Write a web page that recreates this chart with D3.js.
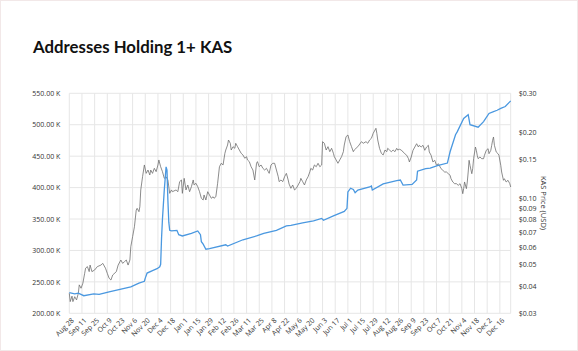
<!DOCTYPE html>
<html><head><meta charset="utf-8">
<script src="https://cdn.jsdelivr.net/npm/d3@7"></script>
<style>
html,body{margin:0;padding:0;background:#fff;}
svg{display:block;}
</style></head>
<body>
<script>
// ---- data ----
const addrDates = ["2023-08-28","2023-09-03","2023-09-07","2023-09-13","2023-09-24","2023-09-30","2023-10-11","2023-11-04","2023-11-13","2023-11-19","2023-11-20","2023-11-22","2023-11-28","2023-12-03","2023-12-06","2023-12-07","2023-12-08","2023-12-09","2023-12-11","2023-12-13","2023-12-14","2023-12-15","2023-12-16","2023-12-17","2023-12-19","2023-12-25","2023-12-27","2023-12-31","2024-01-10","2024-01-17","2024-01-20","2024-01-21","2024-01-23","2024-01-26","2024-01-30","2024-02-17","2024-02-19","2024-03-07","2024-03-22","2024-03-30","2024-04-13","2024-04-24","2024-04-29","2024-05-12","2024-05-24","2024-06-02","2024-06-04","2024-06-15","2024-06-27","2024-06-30","2024-07-01","2024-07-04","2024-07-07","2024-07-09","2024-07-12","2024-07-25","2024-07-27","2024-07-28","2024-08-09","2024-08-24","2024-08-28","2024-08-31","2024-09-10","2024-09-15","2024-09-16","2024-09-25","2024-09-30","2024-10-08","2024-10-19","2024-10-22","2024-10-28","2024-10-30","2024-11-06","2024-11-11","2024-11-13","2024-11-22","2024-11-28","2024-12-04","2024-12-09","2024-12-13","2024-12-17","2024-12-22","2024-12-28"];
const addrValues = [233,231,232,228,231,230,234,242,248,251,256,264,268,271,274,278,320,350,396,433,428,380,345,332,331,332,325,323,327,331,325,314,310,302,303,309,307,317,323,327,332,339,340,344,347,351,348,355,362,367,393,399,397,392,396,401,402.5,396,406,411,412,404,405,412,426,430,431,435,439,457,484,489,510,516,500,496,505,518,521,523,526,529,538];

const priceDates = ["2023-08-28","2023-08-29","2023-08-31","2023-09-01","2023-09-03","2023-09-05","2023-09-07","2023-09-08","2023-09-10","2023-09-12","2023-09-14","2023-09-15","2023-09-17","2023-09-19","2023-09-20","2023-09-22","2023-09-25","2023-09-28","2023-10-02","2023-10-04","2023-10-07","2023-10-09","2023-10-11","2023-10-13","2023-10-15","2023-10-19","2023-10-21","2023-10-24","2023-10-26","2023-10-28","2023-10-30","2023-11-01","2023-11-03","2023-11-04","2023-11-06","2023-11-08","2023-11-10","2023-11-11","2023-11-13","2023-11-14","2023-11-15","2023-11-17","2023-11-19","2023-11-21","2023-11-23","2023-11-25","2023-11-26","2023-11-28","2023-11-30","2023-12-02","2023-12-04","2023-12-05","2023-12-07","2023-12-09","2023-12-11","2023-12-13","2023-12-15","2023-12-17","2023-12-19","2023-12-20","2023-12-24","2023-12-26","2023-12-28","2023-12-30","2023-12-31","2024-01-02","2024-01-04","2024-01-06","2024-01-08","2024-01-10","2024-01-12","2024-01-13","2024-01-15","2024-01-17","2024-01-19","2024-01-21","2024-01-23","2024-01-24","2024-01-26","2024-01-28","2024-01-30","2024-02-01","2024-02-03","2024-02-04","2024-02-06","2024-02-08","2024-02-10","2024-02-12","2024-02-14","2024-02-16","2024-02-17","2024-02-19","2024-02-20","2024-02-22","2024-02-23","2024-02-25","2024-02-27","2024-02-28","2024-03-01","2024-03-03","2024-03-05","2024-03-07","2024-03-09","2024-03-11","2024-03-12","2024-03-14","2024-03-16","2024-03-18","2024-03-20","2024-03-22","2024-03-23","2024-03-25","2024-03-27","2024-03-29","2024-03-31","2024-04-02","2024-04-04","2024-04-05","2024-04-07","2024-04-09","2024-04-11","2024-04-13","2024-04-15","2024-04-16","2024-04-18","2024-04-20","2024-04-22","2024-04-24","2024-04-26","2024-04-27","2024-04-29","2024-05-01","2024-05-03","2024-05-05","2024-05-07","2024-05-09","2024-05-10","2024-05-12","2024-05-14","2024-05-16","2024-05-18","2024-05-20","2024-05-21","2024-05-23","2024-05-25","2024-05-27","2024-05-29","2024-05-31","2024-06-02","2024-06-03","2024-06-05","2024-06-07","2024-06-09","2024-06-11","2024-06-13","2024-06-15","2024-06-16","2024-06-18","2024-06-20","2024-06-22","2024-06-24","2024-06-26","2024-06-27","2024-06-29","2024-07-01","2024-07-03","2024-07-05","2024-07-07","2024-07-08","2024-07-10","2024-07-12","2024-07-16","2024-07-18","2024-07-21","2024-07-23","2024-07-25","2024-07-27","2024-07-29","2024-07-31","2024-08-01","2024-08-02","2024-08-03","2024-08-05","2024-08-07","2024-08-09","2024-08-11","2024-08-13","2024-08-14","2024-08-16","2024-08-18","2024-08-20","2024-08-22","2024-08-24","2024-08-25","2024-08-27","2024-08-29","2024-08-31","2024-09-02","2024-09-04","2024-09-06","2024-09-07","2024-09-09","2024-09-11","2024-09-13","2024-09-15","2024-09-17","2024-09-18","2024-09-20","2024-09-22","2024-09-24","2024-09-26","2024-09-28","2024-09-29","2024-10-01","2024-10-03","2024-10-05","2024-10-07","2024-10-09","2024-10-11","2024-10-12","2024-10-14","2024-10-16","2024-10-18","2024-10-20","2024-10-22","2024-10-23","2024-10-25","2024-10-27","2024-10-29","2024-10-31","2024-11-02","2024-11-04","2024-11-05","2024-11-06","2024-11-07","2024-11-09","2024-11-10","2024-11-11","2024-11-12","2024-11-13","2024-11-15","2024-11-16","2024-11-17","2024-11-19","2024-11-20","2024-11-21","2024-11-22","2024-11-24","2024-11-26","2024-11-28","2024-11-29","2024-12-01","2024-12-03","2024-12-04","2024-12-06","2024-12-07","2024-12-08","2024-12-09","2024-12-10","2024-12-12","2024-12-14","2024-12-15","2024-12-17","2024-12-18","2024-12-20","2024-12-21","2024-12-23","2024-12-25","2024-12-27","2024-12-28"];
const priceValues = [0.0370,0.0339,0.0359,0.0339,0.0357,0.0345,0.0370,0.0404,0.0390,0.0411,0.0456,0.0481,0.0489,0.0464,0.0497,0.0464,0.0472,0.0489,0.0497,0.0506,0.0481,0.0456,0.0433,0.0425,0.0448,0.0464,0.0497,0.0524,0.0506,0.0515,0.0524,0.0497,0.0524,0.0602,0.0669,0.0742,0.0884,0.0900,0.0869,0.0915,0.1091,0.1253,0.1417,0.1298,0.1344,0.1276,0.1344,0.1298,0.1368,0.1321,0.1417,0.1493,0.1391,0.1321,0.1232,0.1253,0.1211,0.1053,0.1091,0.1071,0.1091,0.1071,0.1190,0.1211,0.1053,0.1232,0.1091,0.1149,0.1071,0.1129,0.1211,0.1149,0.1170,0.1129,0.1071,0.1000,0.0982,0.1035,0.0982,0.1071,0.1035,0.1000,0.1016,0.1000,0.1016,0.1170,0.1391,0.1442,0.1417,0.1601,0.1657,0.1746,0.1840,0.1778,0.1657,0.1716,0.1687,0.1778,0.1716,0.1657,0.1601,0.1573,0.1520,0.1545,0.1493,0.1467,0.1391,0.1344,0.1211,0.1442,0.1467,0.1391,0.1417,0.1368,0.1344,0.1368,0.1321,0.1298,0.1417,0.1442,0.1442,0.1344,0.1253,0.1190,0.1211,0.1190,0.1253,0.1298,0.1211,0.1160,0.1110,0.1149,0.1091,0.1110,0.1149,0.1190,0.1232,0.1190,0.1149,0.1211,0.1253,0.1321,0.1368,0.1344,0.1417,0.1391,0.1442,0.1391,0.1417,0.1808,0.1778,0.1657,0.1716,0.1628,0.1687,0.1601,0.1545,0.1493,0.1442,0.1493,0.1545,0.1628,0.1746,0.1905,0.1939,0.1808,0.1716,0.1628,0.1657,0.1687,0.1716,0.1808,0.1778,0.1808,0.1778,0.1840,0.1873,0.1974,0.2043,0.2080,0.1974,0.1840,0.1687,0.1601,0.1573,0.1657,0.1628,0.1687,0.1657,0.1628,0.1657,0.1628,0.1687,0.1657,0.1670,0.1657,0.1623,0.1594,0.1568,0.1513,0.1462,0.1540,0.1652,0.1710,0.1770,0.1710,0.1741,0.1710,0.1741,0.1652,0.1710,0.1741,0.1623,0.1568,0.1462,0.1488,0.1412,0.1436,0.1387,0.1363,0.1340,0.1316,0.1316,0.1293,0.1272,0.1227,0.1186,0.1165,0.1165,0.1145,0.1165,0.1106,0.1049,0.1106,0.1186,0.1106,0.1186,0.1316,0.1488,0.1412,0.1293,0.1363,0.1513,0.1710,0.1652,0.1568,0.1513,0.1540,0.1513,0.1513,0.1568,0.1652,0.1680,0.1594,0.1652,0.1741,0.1835,0.1899,0.1741,0.1623,0.1594,0.1568,0.1412,0.1316,0.1207,0.1227,0.1186,0.1207,0.1165,0.1125];

const xTickDates = ["2023-08-28","2023-09-11","2023-09-25","2023-10-09","2023-10-23","2023-11-06","2023-11-20","2023-12-04","2023-12-18","2024-01-01","2024-01-15","2024-01-29","2024-02-12","2024-02-26","2024-03-11","2024-03-25","2024-04-08","2024-04-22","2024-05-06","2024-05-20","2024-06-03","2024-06-17","2024-07-01","2024-07-15","2024-07-29","2024-08-12","2024-08-26","2024-09-09","2024-09-23","2024-10-07","2024-10-21","2024-11-04","2024-11-18","2024-12-02","2024-12-16"];
const leftTicks = [200,250,300,350,400,450,500,550];
const rightTicks = [0.03,0.04,0.05,0.06,0.07,0.08,0.09,0.10,0.15,0.20,0.30];

const titleText = "Addresses Holding 1+ KAS";
const rightTitle = "KAS Price (USD)";

// ---- layout ----
const W = 578, H = 351;
const m = {left: 69.3, right: 510.7, top: 93.3, bottom: 313.3};
const parse = d3.timeParse("%Y-%m-%d");
const addr = addrDates.map((d,i)=>({date:parse(d), v:addrValues[i]}));
const price = priceDates.map((d,i)=>({date:parse(d), v:priceValues[i]}));

const svg = d3.select("body").append("svg").attr("width",W).attr("height",H);
svg.append("rect").attr("x",0.5).attr("y",0.5).attr("width",W-1).attr("height",H-1)
  .attr("fill","#fff").attr("stroke","#f2e8e8");

const x = d3.scaleTime().domain(d3.extent(addr.concat(price), d=>d.date)).range([m.left, m.right]);
const yL = d3.scaleLinear().domain([200,550]).range([m.bottom, m.top]);
const yR = d3.scaleLog().domain([0.03,0.30]).range([m.bottom, m.top]);

const font = "'Segoe UI','Open Sans','Noto Sans',sans-serif";
svg.append("text").attr("x",33).attr("y",53).text(titleText)
  .attr("font-family","Lato, 'Open Sans', sans-serif").attr("font-weight","bold").attr("font-size",16.8).attr("fill","#111");

// grid
const g = svg.append("g");
g.selectAll("line.hg").data(leftTicks).join("line")
  .attr("x1",m.left).attr("x2",m.right).attr("y1",d=>yL(d)).attr("y2",d=>yL(d))
  .attr("stroke","#e6e6e6").attr("stroke-width",1);
g.selectAll("line.vg").data(xTickDates.map(parse)).join("line")
  .attr("x1",d=>x(d)).attr("x2",d=>x(d)).attr("y1",m.top).attr("y2",m.bottom)
  .attr("stroke","#e6e6e6").attr("stroke-width",1);
g.append("line").attr("x1",m.right).attr("x2",m.right).attr("y1",m.top).attr("y2",m.bottom)
  .attr("stroke","#e6e6e6");

// axes
const axL = svg.append("g").attr("transform",`translate(${m.left-6},0)`)
  .call(d3.axisLeft(yL).tickValues(leftTicks).tickSize(0).tickFormat(d=>d3.format(".2f")(d)+" K"));
const axR = svg.append("g").attr("transform",`translate(${m.right+5},0)`)
  .call(d3.axisRight(yR).tickValues(rightTicks).tickSize(0).tickFormat(d=>"$"+d3.format(".2f")(d)));
const axB = svg.append("g").attr("transform",`translate(0,${m.bottom+3})`)
  .call(d3.axisBottom(x).tickValues(xTickDates.map(parse)).tickSize(0).tickFormat(d3.timeFormat("%b %-d")));
[axL,axR,axB].forEach(a=>{
  a.select(".domain").remove();
  a.selectAll("text").attr("font-family",font).attr("font-size",7).attr("fill","#333");
});
axB.selectAll("text").attr("text-anchor","end").attr("dy","0.35em").attr("dx",0).attr("y",4)
  .attr("transform","rotate(-45)");

svg.append("text").attr("transform",`translate(541,203) rotate(90)`)
  .attr("text-anchor","middle").attr("font-family",font).attr("font-size",7.5).attr("fill","#333")
  .text(rightTitle);

// lines
svg.append("path").datum(price)
  .attr("d", d3.line().x(d=>x(d.date)).y(d=>yR(d.v)))
  .attr("fill","none").attr("stroke","#6e6e6e").attr("stroke-width",0.8);
svg.append("path").datum(addr)
  .attr("d", d3.line().x(d=>x(d.date)).y(d=>yL(d.v)))
  .attr("fill","none").attr("stroke","#4a98e0").attr("stroke-width",1.3);
</script>
</body></html>
